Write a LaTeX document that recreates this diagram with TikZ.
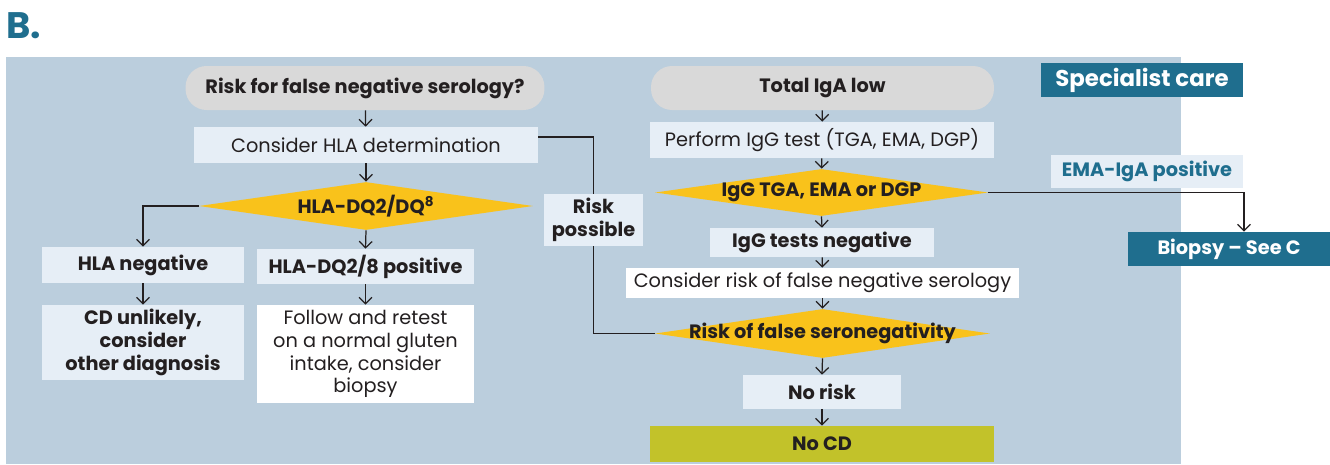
\documentclass[tikz,border=0pt]{standalone}
\usepackage{fontspec}
\setmainfont{Poppins}
\usetikzlibrary{arrows.meta,shapes.geometric}

\definecolor{panel}{HTML}{BBCEDD}
\definecolor{lightbox}{HTML}{E6EEF6}
\definecolor{pillgrey}{HTML}{D9D9D9}
\definecolor{decyellow}{HTML}{F9C21B}
\definecolor{teal}{HTML}{1F6E8E}
\definecolor{olive}{HTML}{C2C22A}
\definecolor{ink}{HTML}{231F20}

\begin{document}
\begin{tikzpicture}[
    x=0.02cm, y=-0.02cm,
    every node/.style={text=ink, font=\fontsize{11}{13}\selectfont, align=center, inner sep=0pt},
    pill/.style={rectangle, rounded corners=0.42cm, fill=pillgrey, font=\fontsize{11}{13}\selectfont\bfseries},
    plainbox/.style={rectangle, fill=lightbox},
    boldbox/.style={rectangle, fill=lightbox, font=\fontsize{11}{13}\selectfont\bfseries},
    whitebox/.style={rectangle, fill=white},
    decision/.style={diamond, fill=decyellow, inner sep=0pt, label={[font=\fontsize{11}{13}\selectfont\bfseries, text=ink]center:#1}},
    tealbox/.style={rectangle, fill=teal, text=white, font=\fontsize{11}{13}\selectfont\bfseries},
    arrow/.style={-{Straight Barb[length=1.3mm, width=2.6mm]}, line width=0.7pt, draw=ink},
    line/.style={line width=0.7pt, draw=ink}
]

% frame of the picture and the panel
\useasboundingbox (0,0) rectangle (1330,464);
\fill[white] (0,0) rectangle (1330,464);
\fill[panel] (6,57) rectangle (1181,464);
\node[text=teal, font=\fontsize{21}{24}\selectfont\bfseries, anchor=west] (title) at (6,26) {B.};

% left column
\node[pill, minimum width=7.18cm, minimum height=0.88cm] (riskq) at (365,88) {Risk for false negative serology?};
\node[plainbox, minimum width=6.88cm, minimum height=0.72cm] (hladet) at (366,145) {Consider HLA determination};
\node[decision={HLA-DQ2/DQ\textsuperscript{8}}, minimum width=6.68cm, minimum height=0.96cm] (hladq) at (366,206) {};
\node[boldbox, minimum width=4.04cm, minimum height=0.72cm] (hlaneg) at (143,265) {HLA negative};
\node[boldbox, minimum width=4.04cm, minimum height=1.5cm] (unlikely) at (143,342.5) {CD unlikely,\\consider\\other diagnosis};
\node[boldbox, minimum width=4.34cm, minimum height=0.7cm] (hlapos) at (365.5,266.5) {HLA-DQ2/8 positive};
\node[whitebox, minimum width=4.34cm, minimum height=1.96cm] (follow) at (365.5,354) {Follow and retest\\on a normal gluten\\intake, consider\\biopsy};
\node[boldbox, minimum width=2.0cm, minimum height=1.04cm] (riskpos) at (593.5,220) {Risk\\possible};

% right column
\node[pill, minimum width=6.86cm, minimum height=0.88cm] (igalow) at (822.5,88) {Total IgA low};
\node[plainbox, minimum width=6.88cm, minimum height=0.72cm] (iggtest) at (822,140) {Perform IgG test (TGA, EMA, DGP)};
\node[decision={IgG TGA, EMA or DGP}, minimum width=6.66cm, minimum height=0.94cm] (iggdec) at (821.5,192.5) {};
\node[boldbox, minimum width=4.48cm, minimum height=0.58cm] (iggneg) at (822,242.5) {IgG tests negative};
\node[whitebox, minimum width=7.86cm, minimum height=0.6cm] (riskcons) at (822.5,283) {Consider risk of false negative serology};
\node[decision={Risk of false seronegativity}, minimum width=6.7cm, minimum height=0.98cm] (seroneg) at (822.5,333.5) {};
\node[boldbox, minimum width=3.16cm, minimum height=0.68cm] (norisk) at (822,392) {No risk};
\node[rectangle, fill=olive, font=\fontsize{11}{13}\selectfont\bfseries, minimum width=6.88cm, minimum height=0.72cm] (nocd) at (822,444) {No CD};

% specialist care side
\node[tealbox, font=\fontsize{13}{15}\selectfont\bfseries, minimum width=4.04cm, minimum height=0.68cm] (specialist) at (1142,80) {Specialist care};
\node[plainbox, text=teal, font=\fontsize{11}{13}\selectfont\bfseries, minimum width=3.84cm, minimum height=0.66cm] (emapos) at (1147,171.5) {EMA-IgA positive};
\node[tealbox, minimum width=4.04cm, minimum height=0.68cm] (biopsy) at (1229,249) {Biopsy -- See C};

% Arrows
\draw[arrow] (riskq) -- (hladet);
\draw[arrow] (hladet) -- (hladq);
\draw[arrow] (hladq.west) -| (hlaneg.north);
\draw[arrow] (hladq.south) -- (hlapos.north);
\draw[arrow] (hlaneg) -- (unlikely);
\draw[arrow] (hlapos) -- (follow);
\draw[line] ([yshift=0.16cm]hladet.east) -| (riskpos.north);
\draw[line] (riskpos.south) |- (seroneg.west);

\draw[arrow] (igalow) -- (iggtest);
\draw[arrow] (iggtest) -- (iggdec);
\draw[arrow] (iggdec.south) -- (iggneg.north);
\draw[arrow] (iggneg) -- (riskcons);
\draw[arrow] (riskcons) -- (seroneg.north);
\draw[arrow] (seroneg.south) -- (norisk.north);
\draw[arrow] (norisk) -- (nocd);
\draw[arrow] (iggdec.east) -| ([xshift=0.3cm]biopsy.north);

\end{tikzpicture}
\end{document}
